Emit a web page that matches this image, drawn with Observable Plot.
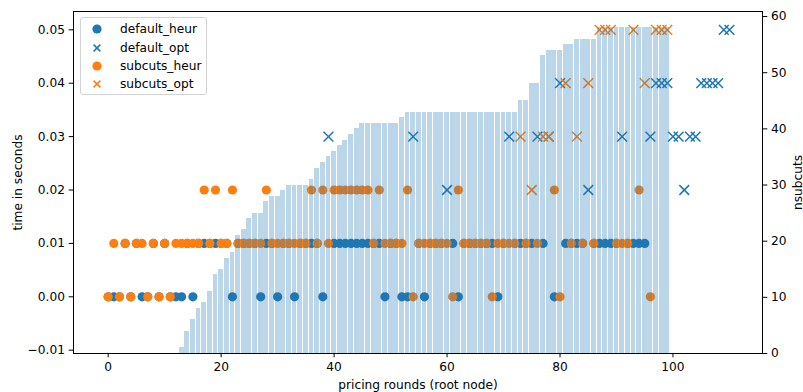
<!DOCTYPE html>
<html><head><meta charset="utf-8">
<script src="https://cdn.jsdelivr.net/npm/d3@7"></script>
<script src="https://cdn.jsdelivr.net/npm/@observablehq/plot@0.6"></script>
<style>
html,body{margin:0;padding:0;background:#fff;}
#wrap{position:relative;width:803px;height:392px;font-family:"DejaVu Sans",sans-serif;font-size:12.2px;color:#000;}
#legend{position:absolute;left:80px;top:17px;width:127px;height:78px;border:1px solid #d3d3d3;border-radius:3px;background:rgba(255,255,255,0.8);box-sizing:border-box;}
.li{position:absolute;left:0;height:16px;width:125px;}
.li svg{position:absolute;left:8px;top:0;}
.li span{position:absolute;left:39px;top:0;line-height:16px;white-space:nowrap;}
</style></head>
<body><div id="wrap"></div>
<script>
// ---- data ----
const nsubcuts = [0,0,0,0,0,0,0,0,0,0,0,0,0,1,4,6,8,9,11,14,15,17,18,21,22,24,25,25,27,28,28,29,30,30,30,30,31,33,34,35,36,37,38,39,40,41,41,41,41,41,41,41,42,
  43,43,43,43,43,43,43,43,43,43,43,43,43,43,43,43,43,43,43,43,45,45,48,48,53,54,54,54,55,55,56,56,56,56,
  58,58,58,58,58,58,58,58,58,58,58,58,58];

const default_heur_round = [0,1,2,3,4,5,6,7,8,9,10,11,12,13,14,15,16,17,18,19,20,21,22,23,24,25,26,27,28,29,30,31,32,33,34,35,36,37,38,
  40,41,42,43,44,45,46,47,48,49,50,51,52,53,55,56,57,58,59,61,62,63,64,65,66,67,68,69,70,72,73,74,75,77,79,81,82,83,84,86,87,88,89,90,92,93,94,95];
const default_heur_time = [0,0,0,0.01,0,0.01,0,0,0.01,0,0.01,0,0,0,0.01,0,0.01,0.01,0.01,0.01,0.01,0.01,0,0.01,0.01,0.01,0.01,0,0.01,0.01,0,0.01,0.01,0,0.01,0.01,0.01,0.01,0,
  0.01,0.01,0.01,0.01,0.01,0.01,0.01,0.01,0.01,0,0.01,0.01,0,0,0.01,0,0.01,0.01,0.01,0.01,0,0.01,0.01,0.01,0.01,0.01,0.01,0,0.01,0.01,0.01,0.01,0.01,0.01,0,0.01,0.01,0.01,0.01,0.01,0.01,0.01,0.01,0.01,0.01,0.01,0.01,0.01];

const default_opt_round = [39,54,60,71,76,78,80,85,91,96,97,98,99,100,101,102,103,104,105,106,107,108,109,110];
const default_opt_time  = [0.03,0.03,0.02,0.03,0.03,0.03,0.04,0.02,0.03,0.03,0.04,0.04,0.04,0.03,0.03,0.02,0.03,0.03,0.04,0.04,0.04,0.04,0.05,0.05];

const subcuts_heur_round = [0,1,2,3,4,5,6,7,8,9,10,11,12,13,14,15,16,17,18,19,20,21,22,23,24,25,26,27,28,29,30,31,32,33,34,35,36,37,38,39,
  40,41,42,43,44,45,46,47,48,49,50,51,52,53,54,55,56,57,58,59,60,61,62,63,64,65,66,67,68,69,70,71,72,74,76,79,80,82,84,86,90,91,92,94,96];
const subcuts_heur_time = [0,0.01,0,0.01,0,0.01,0.01,0,0.01,0,0.01,0,0.01,0.01,0.01,0.01,0.01,0.02,0.01,0.02,0.01,0.01,0.02,0.01,0.01,0.01,0.01,0.01,0.02,0.01,0.01,0.01,0.01,0.01,0.01,0.01,0.02,0.01,0.02,0.01,
  0.02,0.02,0.02,0.02,0.02,0.02,0.02,0.01,0.02,0.01,0.01,0.01,0.01,0.02,0,0.01,0.01,0.01,0.01,0.01,0.01,0,0.02,0.01,0.01,0.01,0.01,0.01,0,0.01,0.01,0.01,0.01,0.01,0.01,0.02,0,0.01,0.01,0.01,0.01,0.01,0.01,0.02,0];

const subcuts_opt_round = [73,75,77,78,81,83,85,87,88,89,93,95,97,98,99];
const subcuts_opt_time  = [0.03,0.02,0.03,0.03,0.04,0.03,0.04,0.05,0.05,0.05,0.05,0.04,0.05,0.05,0.05];

const xTicks = [0,20,40,60,80,100];
const timeTicks = [-0.01,0,0.01,0.02,0.03,0.04,0.05];
const nTicks = [0,10,20,30,40,50,60];
const seriesNames = ["default_heur","default_opt","subcuts_heur","subcuts_opt"];

// ---- build ----
const BLUE = "#1f77b4", ORANGE = "#ff7f0e";
const tMin = -0.01062, tMax = 0.05343, nMax = 60.9;
const nToT = n => tMin + n * (tMax - tMin) / nMax;
const pts = (r, t) => r.map((x, i) => ({x, t: t[i]}));
const bars = nsubcuts.map((n, i) => ({i, n})).filter(d => d.n > 0);
const fmtT = d => d.toFixed(2).replace("-", "\u2212");

const chart = Plot.plot({
  width: 803, height: 392,
  marginLeft: 73, marginRight: 41, marginTop: 11, marginBottom: 39,
  x: {domain: [-6.14, 115.85]},
  y: {domain: [tMin, tMax]},
  style: {fontFamily: "DejaVu Sans", fontSize: "12.2px", color: "#000", background: "transparent", overflow: "visible"},
  marks: [
    Plot.dot(pts(default_heur_round, default_heur_time), {x: "x", y: "t", r: 4.6, fill: BLUE}),
    Plot.dot(pts(default_opt_round, default_opt_time), {x: "x", y: "t", r: 4.5, symbol: "times", stroke: BLUE, strokeWidth: 1.5}),
    Plot.dot(pts(subcuts_heur_round, subcuts_heur_time), {x: "x", y: "t", r: 4.6, fill: ORANGE}),
    Plot.dot(pts(subcuts_opt_round, subcuts_opt_time), {x: "x", y: "t", r: 4.5, symbol: "times", stroke: ORANGE, strokeWidth: 1.5}),
    Plot.rect(bars, {x1: d => d.i - 0.43, x2: d => d.i + 0.43, y1: () => nToT(0), y2: d => nToT(d.n), fill: BLUE, fillOpacity: 0.3, shapeRendering: "crispEdges"}),
    Plot.frame({stroke: "#000", strokeWidth: 1}),
    Plot.axisX(xTicks, {anchor: "bottom", tickSize: 4.3, tickPadding: 5, label: null, tickFormat: d => String(d)}),
    Plot.axisY(timeTicks, {anchor: "left", tickSize: 4.3, tickPadding: 4.3, label: null, tickFormat: fmtT}),
    Plot.axisY(nTicks, {anchor: "right", y: nToT, tickSize: 4.3, tickPadding: 4.3, label: null, tickFormat: d => String(d)}),
    Plot.text(["pricing rounds (root node)"], {frameAnchor: "bottom", dy: 35.5, lineAnchor: "bottom", textAnchor: "middle"}),
    Plot.text(["time in seconds"], {frameAnchor: "left", dx: -51.5, rotate: -90, lineAnchor: "bottom", textAnchor: "middle"}),
    Plot.text(["nsubcuts"], {frameAnchor: "right", dx: 39, rotate: -90, lineAnchor: "bottom", textAnchor: "middle"})
  ]
});
const wrap = document.getElementById("wrap");
wrap.appendChild(chart);

// legend
const legend = document.createElement("div");
legend.id = "legend";
const sym = [
  {c: BLUE, s: "o"}, {c: BLUE, s: "x"}, {c: ORANGE, s: "o"}, {c: ORANGE, s: "x"}
];
const rowTop = [3.3, 21.7, 40, 58.3];
seriesNames.forEach((name, i) => {
  const li = document.createElement("div");
  li.className = "li";
  li.style.top = rowTop[i] + "px";
  const m = sym[i].s === "o"
    ? `<circle cx="8" cy="8" r="4.6" fill="${sym[i].c}"/>`
    : `<path d="M4.6,4.6L11.4,11.4M4.6,11.4L11.4,4.6" stroke="${sym[i].c}" stroke-width="1.5"/>`;
  li.innerHTML = `<svg width="16" height="16">${m}</svg><span>${name}</span>`;
  legend.appendChild(li);
});
wrap.appendChild(legend);
</script></body></html>
